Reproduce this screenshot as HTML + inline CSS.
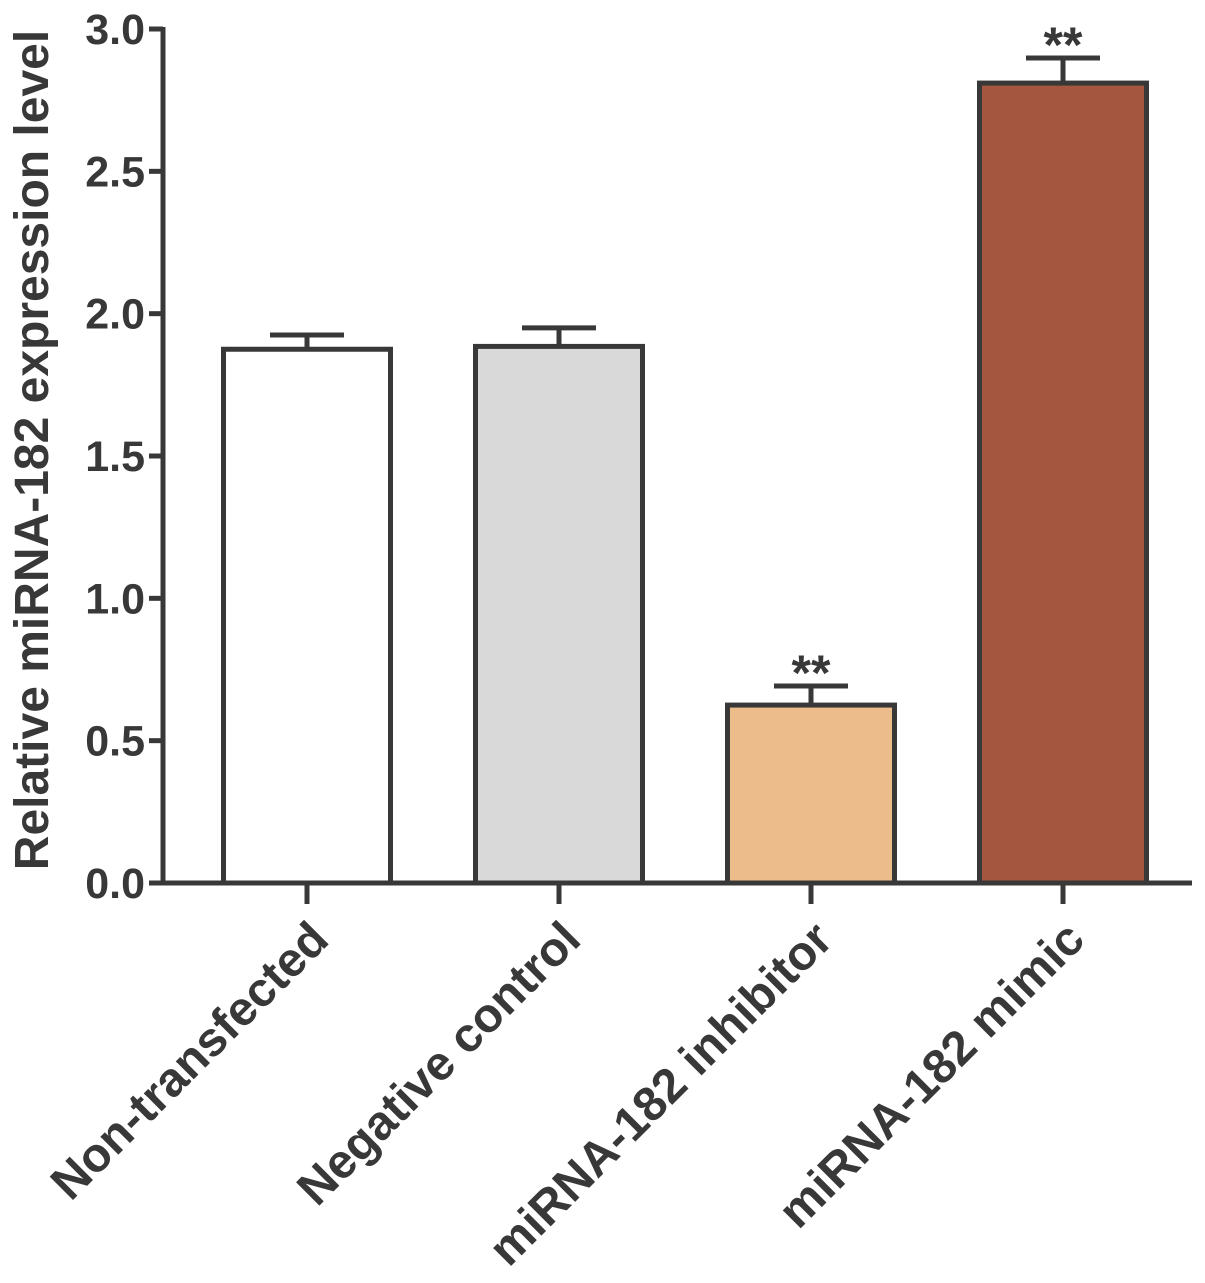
<!DOCTYPE html>
<html><head><meta charset="utf-8"><style>
html,body{margin:0;padding:0;background:#fff;}
svg{display:block;font-family:"Liberation Sans",Arial,sans-serif;font-weight:bold;}
</style></head><body>
<svg id="chart" width="1205" height="1283" viewBox="0 0 1205 1283" xmlns="http://www.w3.org/2000/svg"></svg>
<script>
const categories = ["Non-transfected","Negative control","miRNA-182 inhibitor","miRNA-182 mimic"];
const values = [1.875, 1.885, 0.625, 2.81];
const errors = [0.05, 0.065, 0.067, 0.088];
const stars = ["", "", "**", "**"];
const colors = ["#ffffff","#d9d9d9","#ecbd8a","#a5563f"];
const yTicks = [0, 0.5, 1.0, 1.5, 2.0, 2.5, 3.0];
const yTickLabels = ["0.0","0.5","1.0","1.5","2.0","2.5","3.0"];

const NS = "http://www.w3.org/2000/svg";
const svg = document.getElementById("chart");
const x0 = 163, y0 = 883, yTop = 29, yMax = 3.0;
const step = 252, firstC = 307, barW = 167;
const ink = "#383838";
function yS(v){ return y0 - (v / yMax) * (y0 - yTop); }
function xS(i){ return firstC + i * step; }
function mk(tag, attrs, parent){
  const e = document.createElementNS(NS, tag);
  for (const k in attrs) e.setAttribute(k, attrs[k]);
  (parent || svg).appendChild(e);
  return e;
}

categories.forEach((c, i) => {
  const cx = xS(i), top = yS(values[i]), et = yS(values[i] + errors[i]);
  const g = mk("g", {});
  
  
  const eb = mk("line", {x1:cx, x2:cx, y1:top, y2:et, stroke:ink, "stroke-width":5}, g);
  
  
  const cap = mk("line", {x1:cx-37, x2:cx+37, y1:et, y2:et, stroke:ink, "stroke-width":5}, g);
  
  
  const r = mk("rect", {x:cx-barW/2, y:top, width:barW, height:y0-top, fill:colors[i], stroke:ink, "stroke-width":5}, g);
  
  
  if (stars[i]) {
    const s = mk("text", {x:cx, y:et+4, "text-anchor":"middle", "font-size":50, fill:ink}, g);
    s.textContent = stars[i];
    
    
  }
  const t = mk("line", {x1:cx, x2:cx, y1:y0, y2:y0+21, stroke:ink, "stroke-width":5});
  
  
  const lx = cx + 24, ly = 942;
  const lab = mk("text", {x:lx, y:ly, "text-anchor":"end", "font-size":48, fill:ink, transform:`rotate(-45 ${lx} ${ly})`});
  lab.textContent = c;
  
  
});

const ya = mk("line", {x1:x0, x2:x0, y1:yTop-2, y2:y0+2, stroke:ink, "stroke-width":5});


const xa = mk("line", {x1:x0-2, x2:1192, y1:y0, y2:y0, stroke:ink, "stroke-width":5});


yTicks.forEach((v, i) => {
  const y = yS(v);
  const t = mk("line", {x1:x0-14, x2:x0, y1:y, y2:y, stroke:ink, "stroke-width":5});
  
  
  const l = mk("text", {x:x0-18, y:y+15, "text-anchor":"end", "font-size":43, fill:ink});
  l.textContent = yTickLabels[i];
  
  
});
const yt = mk("text", {x:48, y:450, "text-anchor":"middle", "font-size":48, fill:ink, transform:"rotate(-90 48 450)"});
yt.textContent = "Relative miRNA-182 expression level";


</script>
</body></html>
